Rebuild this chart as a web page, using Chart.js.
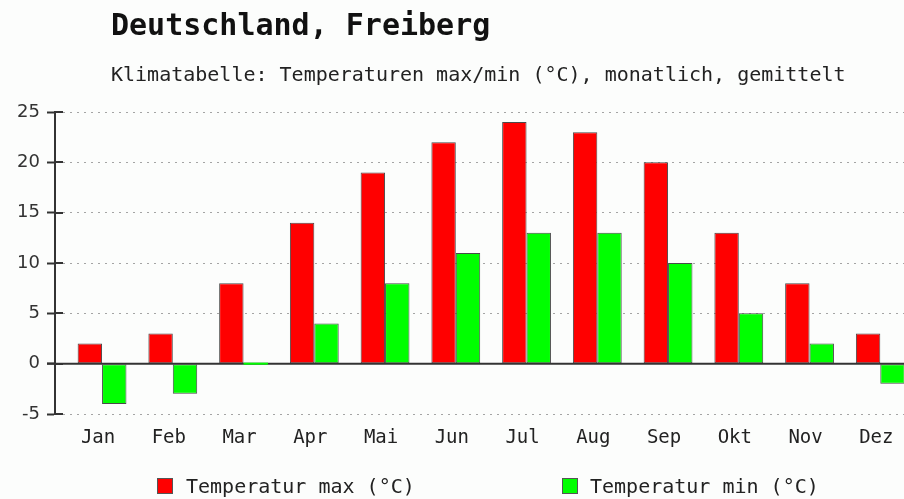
<!DOCTYPE html>
<html lang="de">
<head>
<meta charset="utf-8">
<title>Deutschland, Freiberg</title>
<script src="https://cdn.jsdelivr.net/npm/chart.js@4.4.1/dist/chart.umd.min.js"></script>
<style>
  html, body { margin: 0; padding: 0; background: #fcfdfc; overflow: hidden; }
  #wrap { position: absolute; left: 0; top: 0; width: 904px; height: 499px; }
  .txt { position: absolute; white-space: nowrap; color: #111; font-family: "DejaVu Sans Mono", monospace; }
  #title { left: 111px; top: 10px; font-size: 30px; line-height: 30px; font-weight: bold; }
  #subtitle { left: 111px; top: 64px; font-size: 20px; line-height: 20px; color: #222; }
  .leg-box { position: absolute; width: 14px; height: 14px; top: 478px; border: 1px solid #555; }
  .leg-txt { top: 476px; font-size: 20px; line-height: 20px; color: #222; }
</style>
</head>
<body>
<div id="wrap"><canvas id="climate-chart"></canvas></div>
<div id="title" class="txt">Deutschland, Freiberg</div>
<div id="subtitle" class="txt">Klimatabelle: Temperaturen max/min (°C), monatlich, gemittelt</div>
<div id="legend"></div>

<script>
// ── Daten ──
const months = ["Jan", "Feb", "Mar", "Apr", "Mai", "Jun", "Jul", "Aug", "Sep", "Okt", "Nov", "Dez"];
const tempMax = [2, 3, 8, 14, 19, 22, 24, 23, 20, 13, 8, 3];
const tempMin = [-4, -3, 0, 4, 8, 11, 13, 13, 10, 5, 2, -2];
const yTicks = [-5, 0, 5, 10, 15, 20, 25];

const seriesNames = ["Temperatur max (°C)", "Temperatur min (°C)"];
const seriesColors = ["#ff0000", "#00ff00"];
const AXIS = "#333";

// ── Legende (unten, weit auseinander) ──
function renderLegend() {
  const pos = [[157, 188], [562, 592]];
  document.getElementById("legend").innerHTML = seriesNames.map((name, i) => `
    <div class="leg-box" style="left:${pos[i][0]}px;background:${seriesColors[i]}"></div>
    <div class="txt leg-txt" style="left:${pos[i][1] - 2}px">${name}</div>
  `).join("");
}

// Nulllinie hinter den Balken + Tickstriche, die die Achse kreuzen
const axisMarks = {
  id: "axisMarks",
  beforeDatasetsDraw(chart) {
    const { ctx, chartArea } = chart;
    const y = chart.scales.y.getPixelForValue(0);
    ctx.save();
    ctx.strokeStyle = AXIS;
    ctx.lineWidth = 2;
    ctx.beginPath();
    ctx.moveTo(chartArea.left - 8, y);
    ctx.lineTo(chartArea.right, y);
    ctx.stroke();
    ctx.restore();
  },
  afterDraw(chart) {
    const { ctx, chartArea } = chart;
    const ys = chart.scales.y;
    ctx.save();
    ctx.strokeStyle = AXIS;
    ctx.lineWidth = 2;
    yTicks.forEach(v => {
      const y = Math.round(ys.getPixelForValue(v));
      ctx.beginPath();
      ctx.moveTo(chartArea.left, y);
      ctx.lineTo(chartArea.left + 8, y);
      ctx.stroke();
    });
    ctx.restore();
  }
};

function toPoints(values) {
  return values.map((v, i) => ({ x: i, y: v }));
}

function renderChart() {
  Chart.defaults.font.family = "'DejaVu Sans Mono', monospace";
  Chart.defaults.color = "#222";

  new Chart(document.getElementById("climate-chart"), {
    type: "bar",
    data: {
      datasets: [
        {
          label: seriesNames[0],
          data: toPoints(tempMax),
          backgroundColor: seriesColors[0],
          borderColor: "#4a4a4a",
          borderWidth: 1,
          borderSkipped: false,
          categoryPercentage: 0.69,
          barPercentage: 1.0,
        },
        {
          label: seriesNames[1],
          data: toPoints(tempMin),
          backgroundColor: seriesColors[1],
          borderColor: "#4a4a4a",
          borderWidth: ctx => (ctx.raw && ctx.raw.y === 0 ? 0 : 1),
          borderSkipped: false,
          minBarLength: 2,
          categoryPercentage: 0.69,
          barPercentage: 1.0,
        }
      ]
    },
    options: {
      responsive: true,
      maintainAspectRatio: false,
      animation: false,
      layout: { padding: { top: 112, left: 0, right: 0, bottom: 0 } },
      plugins: {
        legend: { display: false },
        tooltip: { enabled: false },
      },
      scales: {
        x: {
          type: "linear",
          offset: false,
          min: -0.665,
          max: 11.335,
          afterBuildTicks: scale => { scale.ticks = months.map((_, i) => ({ value: i })); },
          afterFit: scale => {
            scale.height = 85;
            scale.paddingLeft = 0;
            scale.paddingRight = 0;
          },
          grid: { display: false, drawTicks: false, offset: false },
          border: { display: false },
          ticks: {
            autoSkip: false,
            maxRotation: 0,
            padding: 13,
            labelOffset: -4,
            color: "#222",
            font: { size: 19 },
            callback: v => months[v],
          }
        },
        y: {
          min: -5,
          max: 25,
          afterBuildTicks: scale => { scale.ticks = yTicks.map(v => ({ value: v })); },
          afterFit: scale => { scale.width = 55; },
          grid: {
            color: ctx => (ctx.tick && ctx.tick.value === 0 ? "rgba(0,0,0,0)" : "#a4a4a4"),
            lineWidth: 1,
            drawTicks: true,
            tickLength: 8,
            tickColor: AXIS,
            tickWidth: 2,
          },
          border: { display: true, color: AXIS, width: 2, dash: [2, 5] },
          ticks: {
            padding: 7,
            color: "#333",
            font: { family: "'DejaVu Sans', sans-serif", size: 18 },
          }
        }
      }
    },
    plugins: [axisMarks]
  });
}

// ── Init ──
renderLegend();
renderChart();
</script>
</body>
</html>
